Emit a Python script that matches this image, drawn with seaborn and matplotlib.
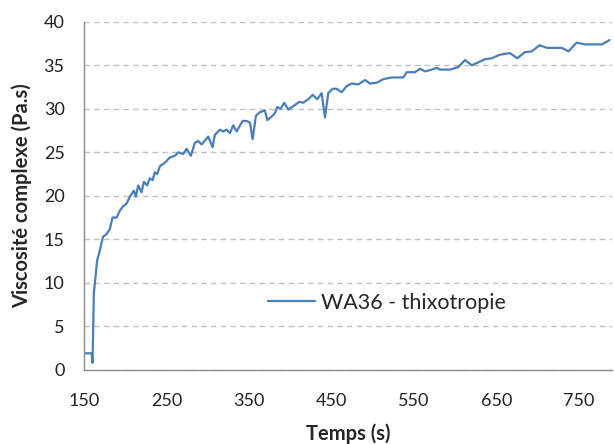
import numpy as np
import matplotlib
matplotlib.use('Agg')
import matplotlib.pyplot as plt
import seaborn as sns
import pandas as pd

# Data
temps = [151, 159, 160.2, 161.8, 165.8, 168.2, 169.9, 173, 177.2, 181.2, 184.4,
         189.3, 193.3, 197.3, 201.4, 205.4, 210.3, 212.7, 215.5, 219.6, 222.4,
         226.4, 229.7, 233, 235.7, 238.5, 241.8, 247.9, 253.9, 260, 264, 270,
         274.2, 279.4, 284.3, 288.3, 292.4, 300.4, 305.7, 308.5, 314.6, 318.6,
         322.7, 326.7, 330.7, 334.8, 342.1, 347, 351, 354.2, 358.2, 363, 369.1,
         372, 377.3, 381.3, 384.1, 388.2, 392.6, 397.4, 403.5, 410.8, 415.6,
         421.7, 427, 432.6, 437.9, 441.9, 445.9, 451.3, 456.1, 462.2, 468.2,
         474.3, 482.3, 490.5, 496.5, 504.6, 512.6, 522.8, 536.9, 541, 551.1,
         557.2, 563.2, 571.4, 577.4, 581.4, 593.5, 603.6, 611.7, 619.9, 636,
         644.1, 653.3, 666, 675, 684, 692.6, 702, 711, 729, 737, 747, 757,
         777.5, 787]
viscosite = [1.9, 1.9, 0.8, 8.8, 12.6, 13.4, 14.1, 15.3, 15.6, 16.2, 17.5,
             17.5, 18.3, 18.8, 19.1, 19.9, 20.6, 19.9, 21.2, 20.4, 21.6,
             21.2, 22.0, 21.8, 22.7, 22.5, 23.4, 23.8, 24.4, 24.6, 25.0, 24.8,
             25.4, 24.6, 26.1, 26.3, 25.9, 26.8, 25.6, 27.0, 27.6, 27.4,
             27.6, 27.2, 28.1, 27.4, 28.6, 28.6, 28.4, 26.5, 29.2, 29.6, 29.8,
             28.7, 29.1, 29.5, 30.2, 30.0, 30.7, 29.9, 30.3, 30.8, 30.7,
             31.1, 31.6, 31.1, 31.8, 29.0, 31.8, 32.3, 32.3, 31.9, 32.6,
             32.9, 32.8, 33.3, 32.9, 33.0, 33.4, 33.6, 33.6, 34.2, 34.2,
             34.6, 34.3, 34.5, 34.7, 34.5, 34.5, 34.8, 35.6, 35.0, 35.7,
             35.8, 36.2, 36.4, 35.8, 36.5, 36.6, 37.3, 37.0, 37.0, 36.6, 37.6, 37.4,
             37.4, 37.9]
serie = 'WA36 - thixotropie'

df = pd.DataFrame({'temps': temps, 'viscosite': viscosite})

sns.set_style('white')
plt.rcParams['font.family'] = ['Lato', 'DejaVu Sans']

fig, ax = plt.subplots(figsize=(6.14, 4.44), dpi=100)
fig.subplots_adjust(left=0.137, right=0.997, top=0.951, bottom=0.167)

sns.lineplot(data=df, x='temps', y='viscosite', ax=ax, color='#4a7ebb',
             linewidth=1.6, label=serie)

# Axes
ax.set_xlim(150, 790)
ax.set_ylim(0, 40)
ax.set_xticks(np.arange(150, 751, 100))
ax.set_xticks(np.arange(200, 751, 100), minor=True)
ax.set_yticks(np.arange(0, 41, 5))
ax.tick_params(axis='both', which='both', direction='out', length=5, width=1,
               color='#8c8c8c', labelsize=13, labelcolor='#222222')
ax.tick_params(axis='y', pad=9)
ax.tick_params(axis='x', pad=12)

ax.grid(axis='y', linestyle=(0, (4, 3)), color='#c0c0c0', linewidth=1)
ax.grid(axis='x', visible=False)
for side in ['top', 'right']:
    ax.spines[side].set_visible(False)
for side in ['left', 'bottom']:
    ax.spines[side].set_color('#8c8c8c')
    ax.spines[side].set_linewidth(1)

ax.set_xlabel('Temps (s)', fontsize=14.5, fontweight='bold', labelpad=10)
ax.set_ylabel('Viscosité complexe (Pa.s)', fontsize=14.5, fontweight='bold', labelpad=8)

ax.legend(loc='center left', bbox_to_anchor=(0.348, 0.192), frameon=False,
          fontsize=15.5, handlelength=2.2, handletextpad=0.25, borderpad=0,
          borderaxespad=0)

plt.savefig('out.png', dpi=100)
